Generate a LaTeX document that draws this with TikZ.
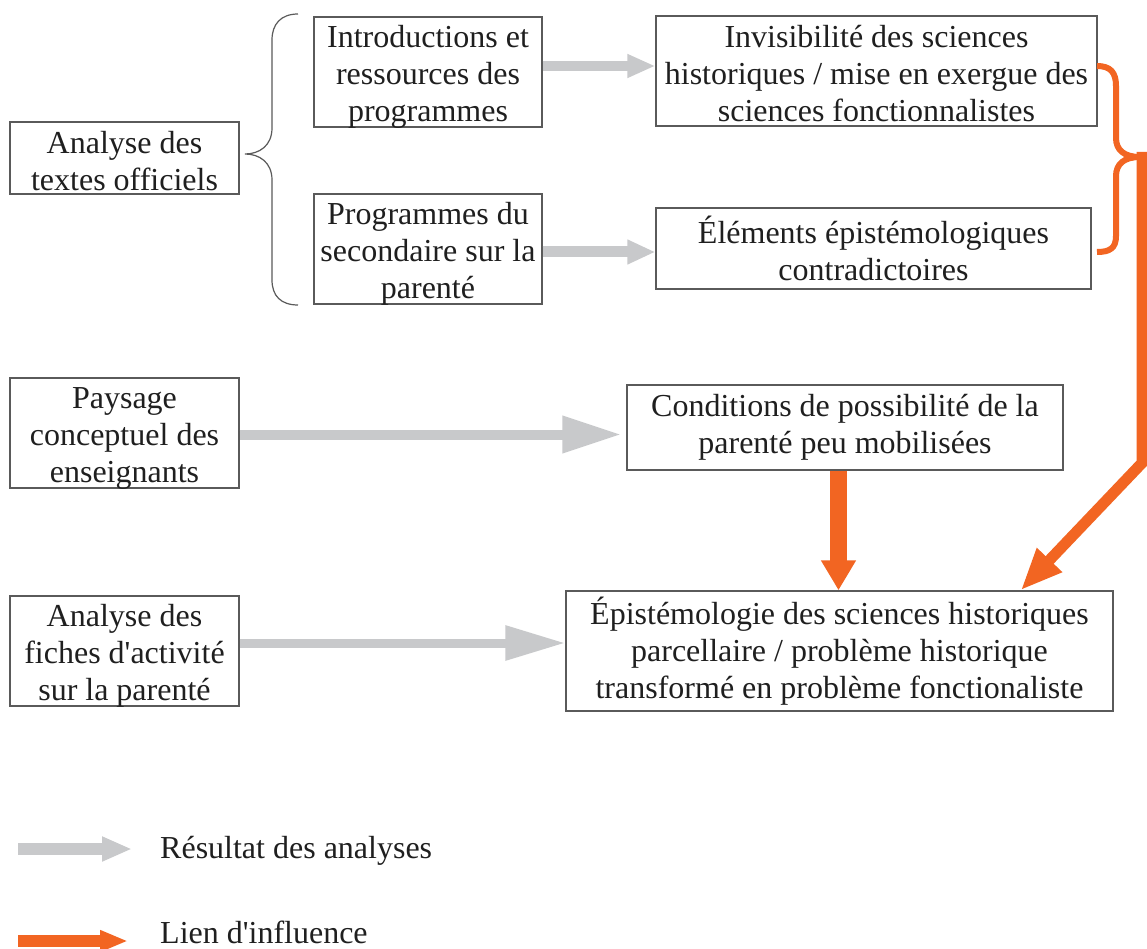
\documentclass[tikz,border=0pt]{standalone}
\usepackage{fontspec}
\setmainfont{Liberation Serif}[Ligatures=TeXOff]
\usetikzlibrary{arrows.meta,calc}
\definecolor{boxline}{HTML}{5A5A5A}
\definecolor{arrgray}{HTML}{C8C9CB}
\definecolor{arrorange}{HTML}{F26522}
\newcommand{\dnstrut}[1]{\rule{0pt}{#1}}
\tikzset{
  box/.style={draw=boxline, line width=1.3pt, inner sep=0pt, align=center,
    font=\fontsize{32}{37}\selectfont, text=black!88},
  legtext/.style={inner sep=0pt, font=\fontsize{32}{37}\selectfont, text=black!88},
  grayarr/.style={draw=arrgray, line cap=butt},
  orangearr/.style={draw=arrorange, line cap=butt},
}
\begin{document}
\begin{tikzpicture}[x=1pt,y=-1pt]
\useasboundingbox[fill=white] (0,0) rectangle (1147,949);

% boxes
\node[box, minimum width=229pt, minimum height=72pt] (A) at (124.5,158) {\dnstrut{28pt}Analyse des\\textes officiels};
\node[box, minimum width=228pt, minimum height=110pt] (I) at (428,72) {\dnstrut{25pt}Introductions et\\ressources des\\\smash{programmes}};
\node[box, minimum width=228pt, minimum height=110pt] (P) at (428,249) {\dnstrut{25pt}Programmes du\\secondaire sur la\\\smash{parenté}};
\node[box, minimum width=441pt, minimum height=110pt] (V) at (876.5,71) {\dnstrut{27.5pt}Invisibilité des sciences\\historiques / mise en exergue des\\\smash{sciences fonctionnalistes}};
\node[box, minimum width=435pt, minimum height=81pt] (E) at (873.5,248.5) {Éléments épistémologiques\\contradictoires};
\node[box, minimum width=229pt, minimum height=110pt] (PC) at (124.5,433) {\dnstrut{25pt}Paysage\\conceptuel des\\\smash{enseignants}};
\node[box, minimum width=436pt, minimum height=85pt] (C) at (845,427.5) {Conditions de possibilité de la\\parenté peu mobilisées};
\node[box, minimum width=229pt, minimum height=110pt] (F) at (124.5,651) {\dnstrut{25pt}Analyse des\\fiches d'activité\\\smash{sur la parenté}};
\node[box, minimum width=547pt, minimum height=120pt] (EP) at (839.5,651) {Épistémologie des sciences historiques\\parcellaire / problème historique\\transformé en problème fonctionaliste};

% left brace
\draw[boxline, line width=1.2pt]
  (298,14) .. controls (281,14) and (272,24) .. (272,40) -- (272,128)
  .. controls (272,146) and (259,154) .. (245,154)
  .. controls (259,154) and (272,162) .. (272,180) -- (272,280)
  .. controls (272,296) and (281,305) .. (298,305);

% gray result arrows
\draw[grayarr, line width=10pt, -{Triangle[length=28pt,width=22pt]}]
  ([yshift=6pt]I.east) -- ([yshift=6pt]I.east -| V.west);
\draw[grayarr, line width=11pt, -{Triangle[length=28pt,width=23pt]}]
  ([yshift=-3pt]P.east) -- ([yshift=-3pt]P.east -| E.west);
\draw[grayarr, line width=10pt, -{Triangle[length=59pt,width=35pt]}, shorten >=5pt]
  ([yshift=-1.5pt]PC.east) -- ([yshift=-1.5pt]PC.east -| C.west);
\draw[grayarr, line width=9pt, -{Triangle[length=60pt,width=33pt]}]
  ([yshift=8pt]F.east) -- ([yshift=8pt]F.east -| EP.west);

% orange brace
\coordinate (bt) at (1097,66);
\coordinate (bb) at (1097,252);
\coordinate (btip) at (1140,157);
\draw[orangearr, line width=6pt, line cap=butt]
  (bt) .. controls (1110,66) and (1116,72) .. (1116,86) -- (1116,138)
  .. controls (1116,150) and (1124,157) .. (btip)
  .. controls (1124,157) and (1116,164) .. (1116,176) -- (1116,236)
  .. controls (1116,248) and (1110,252) .. (bb);

% orange influence arrows
\coordinate (bend) at (1142,463);
\draw[orangearr, line width=11pt, -{Triangle[length=42pt,width=32pt]}]
  (1142,152) -- (bend) -- ([xshift=-93pt]EP.north east);
\draw[orangearr, line width=17pt, -{Triangle[length=30pt,width=33pt]}]
  ([xshift=-6.5pt]C.south) -- ([xshift=-1pt]EP.north);

% legend
\coordinate (lg1) at (18,849);
\coordinate (lg2) at (132,849);
\draw[grayarr, line width=12pt, -{Triangle[length=30pt,width=23pt]}] (lg1) -- (lg2);
\node[legtext, anchor=base west] (lt1) at (160,858) {Résultat des analyses};
\coordinate (lo1) at (18,941);
\coordinate (lo2) at (128,941);
\draw[orangearr, line width=12pt, -{Triangle[length=28pt,width=20pt]}] (lo1) -- (lo2);
\node[legtext, anchor=base west] (lt2) at (160,943) {Lien d'influence};
\end{tikzpicture}
\end{document}
